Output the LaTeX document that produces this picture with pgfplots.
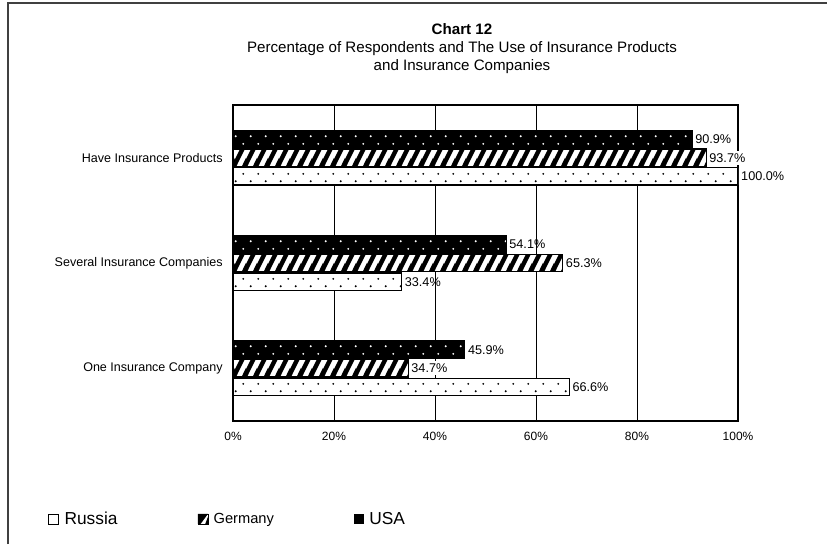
\documentclass[border=0pt]{standalone}
\usepackage{pgfplots}
\pgfplotsset{compat=1.18}
\usepackage{fontspec}
\setmainfont{Liberation Sans}
\usetikzlibrary{patterns}

\pgfdeclarepatternformonly{rudots}{\pgfqpoint{0pt}{0pt}}{\pgfqpoint{11.6pt}{11.2pt}}{\pgfqpoint{11.6pt}{11.2pt}}{%
  \pgfpathcircle{\pgfqpoint{2.9pt}{2.8pt}}{0.8pt}%
  \pgfpathcircle{\pgfqpoint{8.7pt}{8.4pt}}{0.8pt}%
  \pgfusepath{fill}}
\pgfdeclarepatternformonly{gstripes}{\pgfqpoint{0pt}{0pt}}{\pgfqpoint{8pt}{16pt}}{\pgfqpoint{8pt}{16pt}}{%
  \pgfsetlinewidth{3.4pt}%
  \pgfpathmoveto{\pgfqpoint{-10pt}{-4pt}}\pgfpathlineto{\pgfqpoint{2pt}{20pt}}%
  \pgfpathmoveto{\pgfqpoint{-2pt}{-4pt}}\pgfpathlineto{\pgfqpoint{10pt}{20pt}}%
  \pgfpathmoveto{\pgfqpoint{6pt}{-4pt}}\pgfpathlineto{\pgfqpoint{18pt}{20pt}}%
  \pgfusepath{stroke}}

\begin{document}
\begin{tikzpicture}
\useasboundingbox (0pt,0pt) rectangle (620.25pt,408pt);
\draw[line width=1.5pt, black!75] (6pt,0pt) -- (6pt,405.75pt) -- (620.25pt,405.75pt);
\begin{axis}[
  at={(174.75pt,92.25pt)}, anchor=south west,
  scale only axis, width=378.75pt, height=237pt,
  xbar, bar width=13pt,
  xmin=0, xmax=100, ymin=0.5, ymax=3.5,
  /pgf/number format/assume math mode=true,
  ytick={1,2,3},
  yticklabels={One Insurance Company, Several Insurance Companies, Have Insurance Products},
  ytick style={draw=none},
  xtick={0,20,40,60,80,100},
  xticklabel={\pgfmathprintnumber{\tick}\%},
  xtick style={draw=none},
  xmajorgrids, grid style={black, line width=0.6pt},
  axis line style={black, line width=0.8pt},
  ticklabel style={font=\fontsize{9}{10}\selectfont},
  yticklabel style={font=\fontsize{9.4}{10}\selectfont},
  xticklabel style={yshift=-5pt},
  point meta=x,
  nodes near coords={\pgfmathprintnumber[fixed,fixed zerofill,precision=1,assume math mode=true]{\pgfplotspointmeta}\%},
  nodes near coords style={font=\fontsize{9.5}{10}\selectfont, inner sep=2pt, black},
  title={\textbf{Chart 12}\\Percentage of Respondents and The Use of Insurance Products\\and Insurance Companies},
  title style={at={(0.4535,1.248)}, anchor=north, align=center, font=\fontsize{11.35}{13.5}\selectfont},
  legend columns=3,
  legend cell align=left,
  legend style={at={(-0.374,-0.31)}, anchor=west, draw=none, fill=none,
    /tikz/every even column/.append style={column sep=58pt},
    /tikz/every odd column/.append style={column sep=2pt}},
]
\addplot[draw=black, line width=0.8pt, fill=white, postaction={pattern=rudots, pattern color=black}, bar shift=-14pt,
  legend image code/.code={%
    \pgfsetlinewidth{0.6pt}\pgfsetstrokecolor{black}\pgfsetfillcolor{white}%
    \pgfpathrectangle{\pgfqpoint{0pt}{-3.75pt}}{\pgfqpoint{7.5pt}{7.5pt}}\pgfusepath{fill,stroke}}]
  coordinates {(66.6,1) (33.4,2) (100.0,3)};
\addlegendentry{\fontsize{13}{14}\selectfont Russia}
\addplot[draw=black, line width=0.8pt, fill=white, postaction={pattern=gstripes, pattern color=black}, bar shift=0pt,
  every node near coord/.append style={fill=white},
  legend image code/.code={%
    \pgfsetlinewidth{0.6pt}\pgfsetstrokecolor{black}\pgfsetfillcolor{white}%
    \pgfpathrectangle{\pgfqpoint{0pt}{-3.75pt}}{\pgfqpoint{7.5pt}{7.5pt}}\pgfusepath{fill,stroke}%
    \pgfsetfillcolor{black}%
    \pgfpathmoveto{\pgfqpoint{0pt}{-3.75pt}}\pgfpathlineto{\pgfqpoint{0pt}{3.75pt}}%
    \pgfpathlineto{\pgfqpoint{7.5pt}{3.75pt}}\pgfpathlineto{\pgfqpoint{2pt}{-3.75pt}}\pgfpathclose
    \pgfpathmoveto{\pgfqpoint{7.5pt}{-3.75pt}}\pgfpathlineto{\pgfqpoint{7.5pt}{1.5pt}}%
    \pgfpathlineto{\pgfqpoint{5.5pt}{-3.75pt}}\pgfpathclose
    \pgfusepath{fill}}]
  coordinates {(34.7,1) (65.3,2) (93.7,3)};
\addlegendentry{\fontsize{11}{12}\selectfont Germany}
\addplot[draw=black, line width=0.8pt, fill=black, postaction={pattern=rudots, pattern color=white}, bar shift=14pt,
  legend image code/.code={%
    \pgfsetfillcolor{black}%
    \pgfpathrectangle{\pgfqpoint{0pt}{-3.75pt}}{\pgfqpoint{7.5pt}{7.5pt}}\pgfusepath{fill}}]
  coordinates {(45.9,1) (54.1,2) (90.9,3)};
\addlegendentry{\fontsize{13}{14}\selectfont USA}
\end{axis}
\end{tikzpicture}
\end{document}
